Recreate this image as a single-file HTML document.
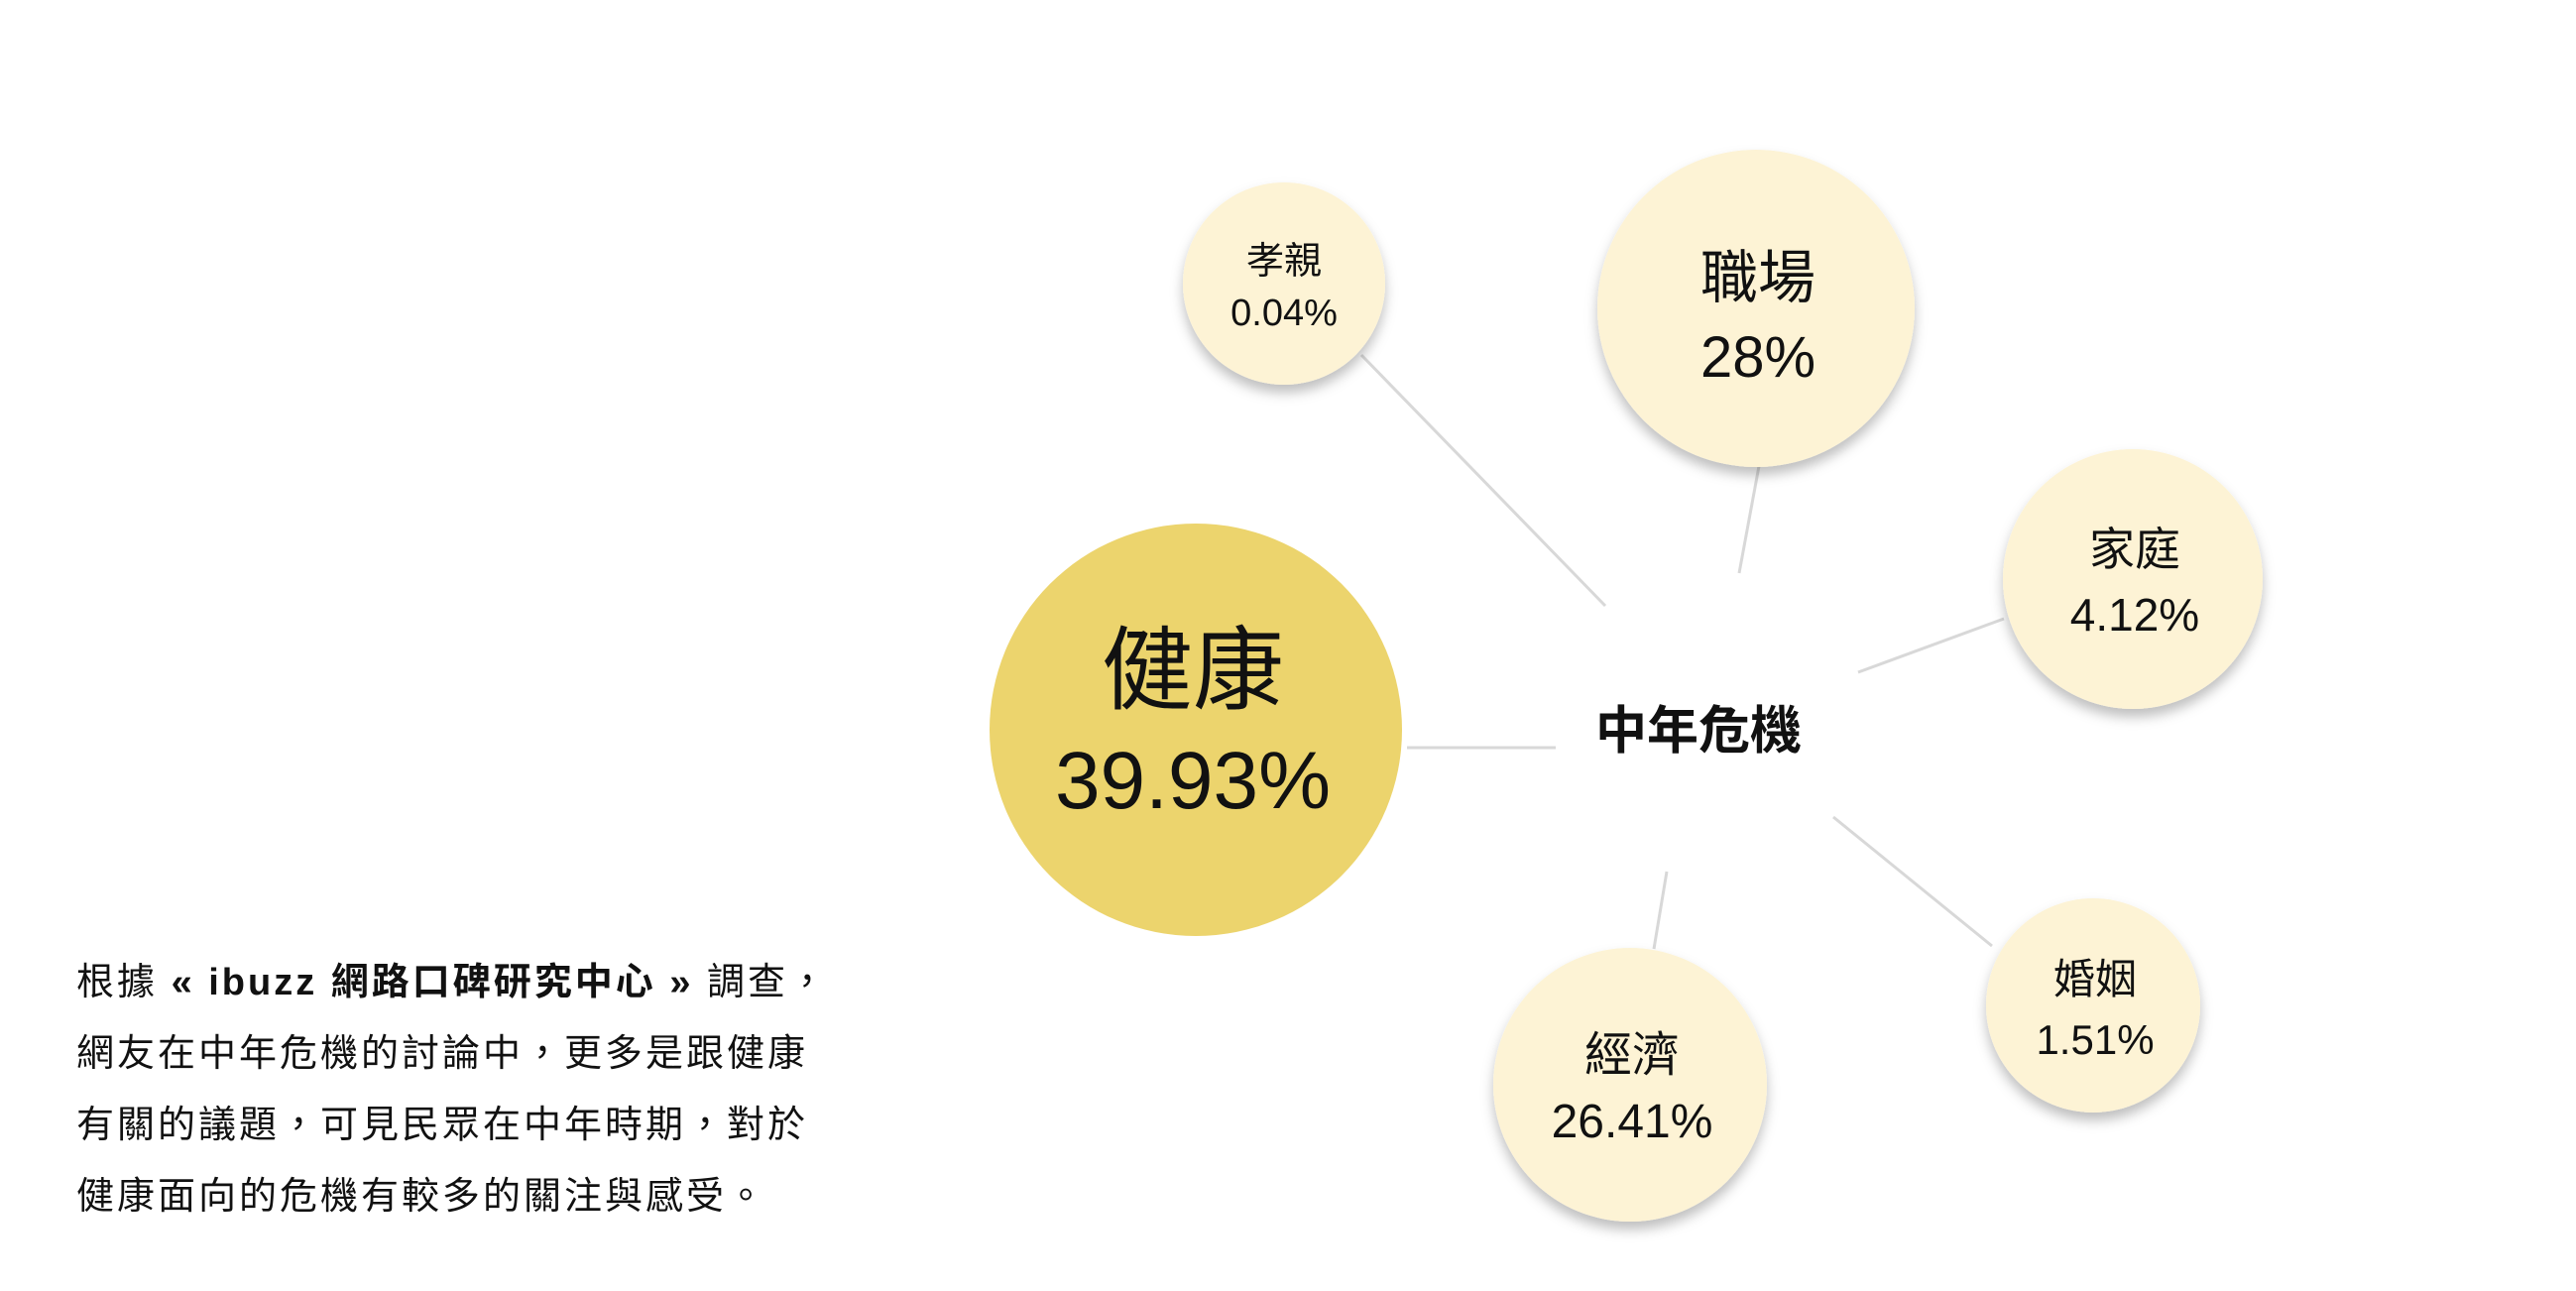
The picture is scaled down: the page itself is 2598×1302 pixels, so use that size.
<!DOCTYPE html>
<html><head><meta charset="utf-8"><style>
body{margin:0;background:#fff;}
svg{display:block}
text{font-family:"Liberation Sans","Noto Sans CJK TC",sans-serif;fill:#111;text-anchor:middle;}
.p{position:absolute;left:77px;top:955px;font-family:"Liberation Sans","Noto Sans CJK TC",sans-serif;font-size:38px;letter-spacing:3px;line-height:72px;color:#111;margin:0;white-space:nowrap}
</style></head><body>
<div style="position:relative;width:2598px;height:1302px;overflow:hidden">
<svg width="2598" height="1302" viewBox="0 0 2598 1302">
<defs><filter id="s" x="-20%" y="-20%" width="140%" height="150%"><feDropShadow dx="0" dy="8" stdDeviation="6" flood-color="#000" flood-opacity="0.25"/></filter></defs>
<g transform="translate(-9,0)">
<g stroke="#d8d8d8" stroke-width="3">
<line x1="1382" y1="358" x2="1628" y2="611"/>
<line x1="1783" y1="470" x2="1763" y2="578"/>
<line x1="2030" y1="624" x2="1883" y2="678"/>
<line x1="1428" y1="754" x2="1578" y2="754"/>
<line x1="2018" y1="954" x2="1858" y2="824"/>
<line x1="1690" y1="879" x2="1677" y2="957"/>
</g>
<g fill="#fdf3d5" filter="url(#s)">
<circle cx="1304" cy="286" r="102"/>
<circle cx="1780" cy="311" r="160"/>
<circle cx="2160" cy="584" r="131"/>
<circle cx="2120" cy="1014" r="108"/>
<circle cx="1653" cy="1094" r="138"/>
</g>
<circle cx="1215" cy="736" r="208" fill="#ecd46d"/>
<text x="1304" y="276" font-size="38">孝親</text>
<text x="1304" y="328" font-size="38">0.04%</text>
<text x="1782" y="300" font-size="58">職場</text>
<text x="1782" y="380" font-size="58">28%</text>
<text x="2162" y="570" font-size="46">家庭</text>
<text x="2162" y="636" font-size="46">4.12%</text>
<text x="1212" y="708" font-size="92">健康</text>
<text x="1212" y="815" font-size="82">39.93%</text>
<text x="1722" y="755" font-size="52" font-weight="bold">中年危機</text>
<text x="2122" y="1002" font-size="42">婚姻</text>
<text x="2122" y="1063" font-size="42">1.51%</text>
<text x="1655" y="1080" font-size="48">經濟</text>
<text x="1655" y="1147" font-size="48">26.41%</text>
</g>
</svg>
<p class="p">根據 <b>« ibuzz 網路口碑研究中心 »</b> 調查，<br>網友在中年危機的討論中，更多是跟健康<br>有關的議題，可見民眾在中年時期，對於<br>健康面向的危機有較多的關注與感受。</p>
</div>
</body></html>
